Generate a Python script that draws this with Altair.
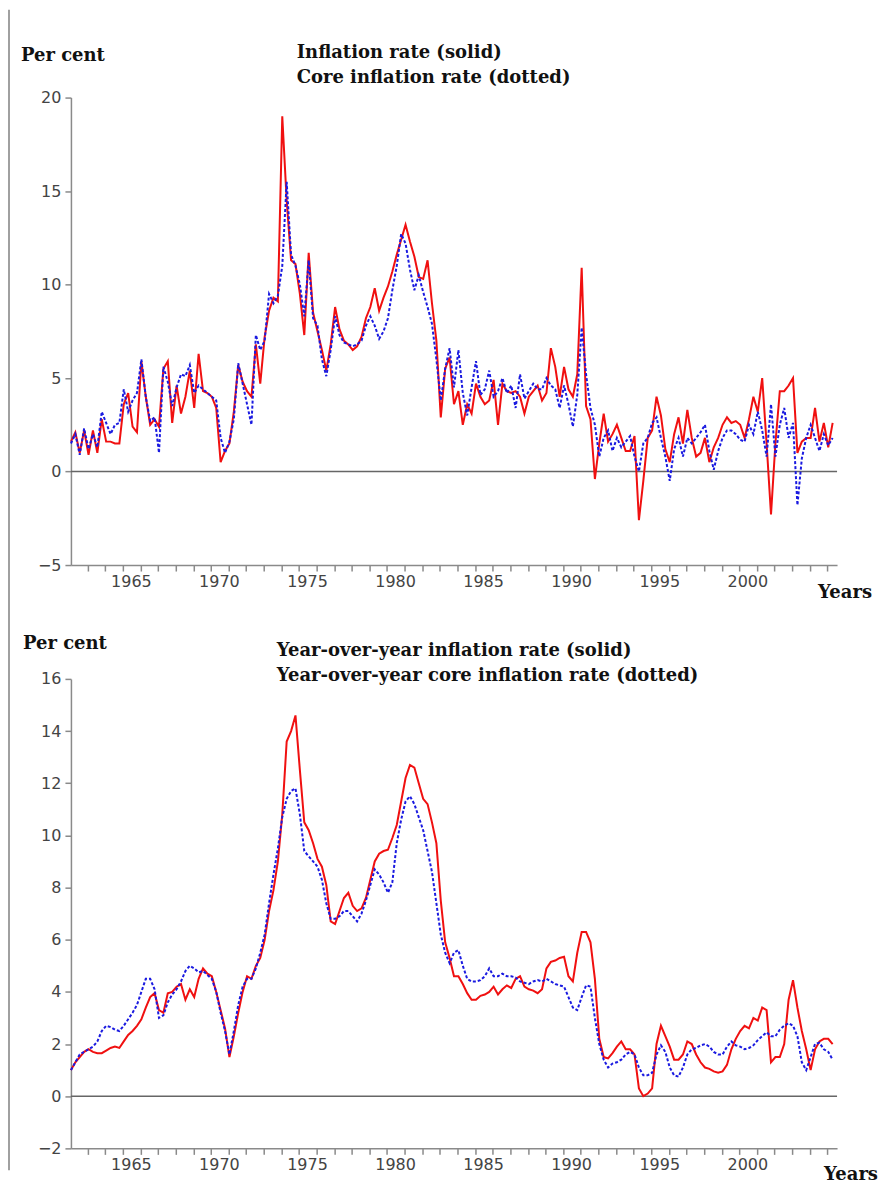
import altair as alt
import pandas as pd

# Quarterly observations, 1962Q1 .. 2005Q2
start_year = 1962

# ---- Top panel: quarterly inflation rate (annualized), per cent ----
infl = [
    1.6, 2.1, 1.0, 2.2,    # 1962
    0.9, 2.2, 1.0, 2.8,    # 1963
    1.6, 1.6, 1.5, 1.5,    # 1964
    3.6, 4.2, 2.4, 2.1,    # 1965
    5.9, 4.0, 2.5, 2.8,    # 1966
    2.4, 5.5, 5.9, 2.6,    # 1967
    4.6, 3.1, 4.0, 5.4,    # 1968
    3.4, 6.3, 4.3, 4.2,    # 1969
    4.0, 3.4, 0.5, 1.1,    # 1970
    1.5, 3.2, 5.7, 4.8,    # 1971
    4.3, 4.0, 6.8, 4.7,    # 1972
    7.2, 8.6, 9.3, 9.1,    # 1973
    19.0, 14.5, 11.3, 11.1,  # 1974
    9.5, 7.3, 11.7, 8.5,   # 1975
    7.5, 6.5, 5.4, 6.8,    # 1976
    8.8, 7.6, 7.0, 6.8,    # 1977
    6.5, 6.7, 7.2, 8.2,    # 1978
    8.8, 9.8, 8.6, 9.3,    # 1979
    9.9, 10.7, 11.6, 12.4,  # 1980
    13.2, 12.3, 11.5, 10.4,  # 1981
    10.3, 11.3, 9.0, 7.0,  # 1982
    2.9, 5.5, 6.1, 3.6,    # 1983
    4.3, 2.5, 3.6, 3.1,    # 1984
    4.7, 4.0, 3.6, 3.8,    # 1985
    4.9, 2.5, 4.7, 4.3,    # 1986
    4.2, 4.3, 4.0, 3.1,    # 1987
    4.0, 4.3, 4.6, 3.8,    # 1988
    4.2, 6.6, 5.6, 4.0,    # 1989
    5.6, 4.4, 4.0, 5.2,    # 1990
    10.9, 3.5, 2.8, -0.4,  # 1991
    1.5, 3.1, 1.6, 2.0,    # 1992
    2.5, 1.8, 1.1, 1.1,    # 1993
    1.9, -2.6, -0.5, 1.8,  # 1994
    2.2, 4.0, 3.0, 1.2,    # 1995
    0.5, 2.0, 2.9, 1.5,    # 1996
    3.3, 1.8, 0.8, 1.0,    # 1997
    1.8, 0.5, 1.3, 1.8,    # 1998
    2.5, 2.9, 2.6, 2.7,    # 1999
    2.5, 1.8, 2.8, 4.0,    # 2000
    3.2, 5.0, 1.5, -2.3,   # 2001
    1.5, 4.3, 4.3, 4.6,    # 2002
    5.0, 1.0, 1.6, 1.8,    # 2003
    1.8, 3.4, 1.6, 2.6,    # 2004
    1.3, 2.6,              # 2005
]

core = [
    1.5, 2.0, 0.9, 2.3,    # 1962
    1.2, 2.0, 1.3, 3.2,    # 1963
    2.6, 2.0, 2.5, 2.6,    # 1964
    4.4, 3.2, 3.8, 4.2,    # 1965
    6.0, 4.0, 2.7, 2.9,    # 1966
    1.0, 5.6, 4.8, 3.5,    # 1967
    4.5, 5.2, 5.1, 5.7,    # 1968
    4.2, 4.6, 4.4, 4.2,    # 1969
    4.0, 3.8, 1.8, 1.0,    # 1970
    1.6, 2.8, 5.8, 4.7,    # 1971
    3.6, 2.5, 7.3, 6.5,    # 1972
    7.0, 9.5, 9.0, 9.4,    # 1973
    11.0, 15.5, 11.6, 11.0,  # 1974
    10.0, 8.3, 11.3, 8.2,  # 1975
    7.8, 6.0, 5.1, 6.5,    # 1976
    8.3, 7.3, 6.9, 6.8,    # 1977
    6.7, 6.8, 7.0, 7.8,    # 1978
    8.3, 7.8, 7.1, 7.5,    # 1979
    8.2, 9.7, 11.0, 12.7,  # 1980
    12.2, 10.8, 9.7, 10.5,  # 1981
    9.6, 8.8, 7.9, 6.0,    # 1982
    3.8, 5.5, 6.6, 4.5,    # 1983
    6.5, 4.2, 3.0, 4.5,    # 1984
    5.9, 4.1, 4.4, 5.4,    # 1985
    4.0, 4.3, 5.0, 4.2,    # 1986
    4.6, 3.4, 5.2, 3.9,    # 1987
    4.3, 4.7, 4.4, 4.4,    # 1988
    5.0, 4.6, 4.4, 3.4,    # 1989
    4.6, 3.6, 2.4, 4.1,    # 1990
    7.7, 5.2, 3.4, 2.5,    # 1991
    0.8, 1.8, 2.2, 1.1,    # 1992
    1.8, 1.3, 1.6, 1.9,    # 1993
    0.8, 0.0, 1.5, 1.8,    # 1994
    2.6, 2.9, 1.8, 0.8,    # 1995
    -0.5, 1.2, 1.8, 0.8,   # 1996
    1.8, 1.5, 1.8, 2.1,    # 1997
    2.5, 1.1, 0.1, 1.1,    # 1998
    1.8, 2.2, 2.2, 2.0,    # 1999
    1.7, 1.6, 2.5, 2.0,    # 2000
    3.2, 2.2, 0.8, 3.6,    # 2001
    0.8, 2.5, 3.4, 1.8,    # 2002
    2.6, -1.8, 0.7, 1.8,   # 2003
    2.5, 1.8, 1.1, 2.0,    # 2004
    1.4, 1.8,              # 2005
]

# ---- Bottom panel: year-over-year rates, per cent ----
yoy_infl = [
    1.0, 1.3, 1.5, 1.7,    # 1962
    1.8, 1.7, 1.65, 1.65,  # 1963
    1.75, 1.85, 1.9, 1.85,  # 1964
    2.1, 2.35, 2.5, 2.7,   # 1965
    2.95, 3.4, 3.8, 3.95,  # 1966
    3.3, 3.2, 3.95, 4.0,   # 1967
    4.2, 4.3, 3.7, 4.1,    # 1968
    3.8, 4.5, 4.9, 4.7,    # 1969
    4.6, 4.0, 3.3, 2.6,    # 1970
    1.5, 2.3, 3.2, 4.0,    # 1971
    4.6, 4.5, 5.0, 5.3,    # 1972
    6.0, 7.1, 7.9, 9.0,    # 1973
    10.8, 13.6, 14.0, 14.6,  # 1974
    12.5, 10.5, 10.2, 9.7,  # 1975
    9.1, 8.8, 8.1, 6.7,    # 1976
    6.6, 7.1, 7.6, 7.8,    # 1977
    7.3, 7.1, 7.2, 7.6,    # 1978
    8.3, 9.0, 9.3, 9.4,    # 1979
    9.45, 9.9, 10.4, 11.3,  # 1980
    12.2, 12.7, 12.6, 12.0,  # 1981
    11.4, 11.2, 10.5, 9.7,  # 1982
    7.5, 5.9, 5.3, 4.6,    # 1983
    4.6, 4.3, 3.95, 3.7,   # 1984
    3.7, 3.85, 3.9, 4.0,   # 1985
    4.2, 3.9, 4.1, 4.25,   # 1986
    4.15, 4.5, 4.6, 4.2,   # 1987
    4.1, 4.05, 3.95, 4.1,  # 1988
    4.9, 5.15, 5.2, 5.3,   # 1989
    5.35, 4.6, 4.4, 5.5,   # 1990
    6.3, 6.3, 5.9, 4.5,    # 1991
    2.2, 1.5, 1.45, 1.65,  # 1992
    1.9, 2.1, 1.8, 1.8,    # 1993
    1.6, 0.3, 0.0, 0.1,    # 1994
    0.3, 2.0, 2.7, 2.3,    # 1995
    1.9, 1.4, 1.4, 1.6,    # 1996
    2.1, 2.0, 1.6, 1.3,    # 1997
    1.1, 1.05, 0.95, 0.9,  # 1998
    0.95, 1.2, 1.8, 2.2,   # 1999
    2.5, 2.7, 2.6, 3.0,    # 2000
    2.9, 3.4, 3.3, 1.3,    # 2001
    1.5, 1.5, 2.0, 3.7,    # 2002
    4.45, 3.4, 2.5, 1.8,   # 2003
    1.0, 1.8, 2.1, 2.2,    # 2004
    2.2, 2.0,              # 2005
]

yoy_core = [
    1.0, 1.3, 1.6, 1.7,    # 1962
    1.8, 1.9, 2.1, 2.5,    # 1963
    2.7, 2.65, 2.55, 2.5,  # 1964
    2.7, 2.95, 3.2, 3.5,   # 1965
    4.0, 4.5, 4.5, 4.1,    # 1966
    3.0, 3.1, 3.6, 3.9,    # 1967
    4.1, 4.4, 4.8, 5.0,    # 1968
    4.9, 4.75, 4.8, 4.65,  # 1969
    4.5, 4.0, 3.2, 2.5,    # 1970
    1.6, 2.5, 3.5, 4.2,    # 1971
    4.5, 4.5, 4.9, 5.5,    # 1972
    6.2, 7.4, 8.5, 9.5,    # 1973
    10.7, 11.4, 11.7, 11.8,  # 1974
    10.8, 9.4, 9.2, 9.0,   # 1975
    8.8, 8.3, 7.4, 6.8,    # 1976
    6.8, 6.9, 7.1, 7.1,    # 1977
    6.9, 6.7, 7.0, 7.5,    # 1978
    8.1, 8.7, 8.5, 8.2,    # 1979
    7.8, 8.2, 9.7, 10.6,   # 1980
    11.3, 11.5, 11.2, 10.7,  # 1981
    10.2, 9.4, 8.6, 7.4,   # 1982
    6.2, 5.5, 5.1, 5.5,    # 1983
    5.6, 5.0, 4.5, 4.4,    # 1984
    4.4, 4.45, 4.6, 4.9,   # 1985
    4.6, 4.6, 4.7, 4.6,    # 1986
    4.6, 4.55, 4.4, 4.35,  # 1987
    4.3, 4.4, 4.45, 4.4,   # 1988
    4.5, 4.4, 4.3, 4.25,   # 1989
    4.2, 3.8, 3.4, 3.3,    # 1990
    3.8, 4.25, 4.2, 3.0,   # 1991
    2.0, 1.4, 1.1, 1.25,   # 1992
    1.3, 1.4, 1.6, 1.7,    # 1993
    1.6, 1.1, 0.8, 0.8,    # 1994
    0.9, 1.6, 1.95, 1.7,   # 1995
    1.1, 0.8, 0.75, 1.1,   # 1996
    1.6, 1.8, 1.85, 1.95,  # 1997
    2.0, 1.9, 1.7, 1.6,    # 1998
    1.6, 1.9, 2.1, 1.95,   # 1999
    1.9, 1.8, 1.85, 1.95,  # 2000
    2.15, 2.3, 2.45, 2.3,  # 2001
    2.3, 2.55, 2.7, 2.8,   # 2002
    2.7, 2.3, 1.3, 1.0,    # 2003
    1.5, 2.0, 2.05, 1.8,   # 2004
    1.7, 1.4,              # 2005
]

top_ticks = [-5, 0, 5, 10, 15, 20]
bottom_ticks = [-2, 0, 2, 4, 6, 8, 10, 12, 14, 16]
year_ticks = list(range(1963, 2006))
year_labels_upto = 2000

top_title = ["Inflation rate (solid)", "Core inflation rate (dotted)"]
bottom_title = ["Year-over-year inflation rate (solid)",
                "Year-over-year core inflation rate (dotted)"]

# quarter positions on a continuous year axis
t = [start_year + 0.05 + 0.25 * k for k in range(len(infl))]

W = 767
H_TOP = 468
H_BOT = 470
GAP = 114

RED = "#f01010"
BLUE = "#1a1ae0"
AXC = "#8a8a8a"
SERIF = "DejaVu Serif"


def x_enc():
    return alt.X(
        "t:Q",
        scale=alt.Scale(domain=[1962.05, 2005.55], nice=False, zero=False),
        axis=alt.Axis(
            values=year_ticks, format="d",
            labelExpr=f"(datum.value % 5 == 0 && datum.value <= {year_labels_upto}) ? datum.label : ''",
            labelOffset=8, tickSize=6, tickColor=AXC, tickWidth=1.5,
            domainColor=AXC, domainWidth=1.5, labelFont="DejaVu Sans",
            labelFontSize=16, labelColor="#444", labelPadding=2,
            labelOverlap=False, labelFlush=False, grid=False, title=None,
        ),
    )


def y_enc(domain, ticks):
    return alt.Y(
        "v:Q",
        scale=alt.Scale(domain=domain, nice=False, zero=False),
        axis=alt.Axis(
            values=ticks, format="d", tickSize=6, tickColor=AXC, tickWidth=1.5,
            domainColor=AXC, domainWidth=1.5, labelFont="DejaVu Sans",
            labelFontSize=16, labelColor="#444", labelPadding=4,
            grid=False, title=None,
        ),
    )


def text_layer(txt, x, y, align="left", size=18):
    return alt.Chart(pd.DataFrame({"s": [txt]})).mark_text(
        font=SERIF, fontWeight="bold", fontSize=size, color="#111",
        align=align, baseline="middle",
    ).encode(x=alt.value(x), y=alt.value(y), text="s:N")


def panel(v1, v2, domain, ticks, height, title, pc_xy, title_xy, years_xy, border):
    df = pd.DataFrame({"t": t, "a": v1, "b": v2})
    red = alt.Chart(df).transform_calculate(v="datum.a").mark_line(
        color=RED, strokeWidth=2
    ).encode(x=x_enc(), y=y_enc(domain, ticks))
    blue = alt.Chart(df).transform_calculate(v="datum.b").mark_line(
        color=BLUE, strokeWidth=2, strokeDash=[3, 2]
    ).encode(x=x_enc(), y=y_enc(domain, ticks))
    zero = alt.Chart(pd.DataFrame({"v": [0]})).mark_rule(
        color="#666", strokeWidth=1.5
    ).encode(y=y_enc(domain, ticks))
    edge = alt.Chart(pd.DataFrame({"k": [0]})).mark_rule(
        color="#a0a0a0", strokeWidth=2
    ).encode(x=alt.value(-62), y=alt.value(border[0]), y2=alt.value(border[1]))
    texts = [
        text_layer("Per cent", pc_xy[0], pc_xy[1]),
        text_layer(title[0], title_xy[0], title_xy[1]),
        text_layer(title[1], title_xy[0], title_xy[1] + 25),
        text_layer("Years", years_xy[0], years_xy[1], align="center"),
    ]
    return alt.layer(zero, red, blue, edge, *texts).properties(width=W, height=height)


top = panel(infl, core, [-5, 20], top_ticks, H_TOP, top_title,
            (-50, -42), (226, -45), (775, 496), (-88, H_TOP + GAP))
bottom = panel(yoy_infl, yoy_core, [-2, 16], bottom_ticks, H_BOT, bottom_title,
               (-48, -35), (206, -28), (781, 497), (0, 492))

chart = alt.vconcat(top, bottom, spacing=GAP, bounds="flush", padding=0).configure_view(
    stroke=None
)

chart.save("out.html", embed_options={"renderer": "svg", "actions": False})
